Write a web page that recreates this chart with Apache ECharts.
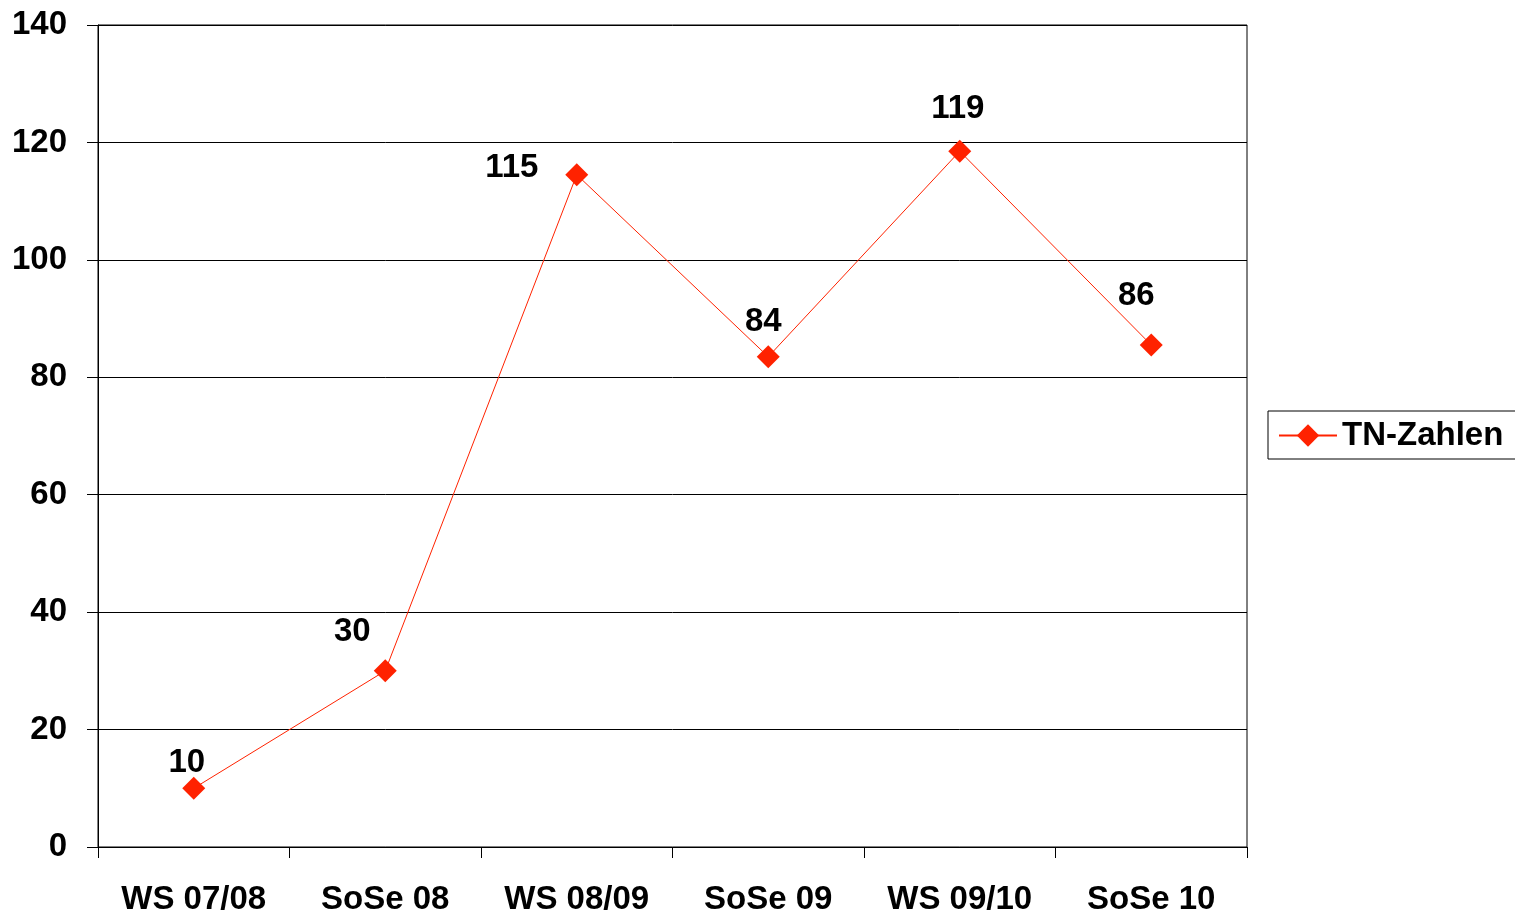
<!DOCTYPE html>
<html><head><meta charset="utf-8">
<script src="https://cdn.jsdelivr.net/npm/echarts@6/dist/echarts.min.js"></script>
<style>html,body{margin:0;padding:0;background:#fff}#c{width:1515px;height:917px}</style>
</head><body><div id="c"></div>
<script>
const categories = ['WS 07/08','SoSe 08','WS 08/09','SoSe 09','WS 09/10','SoSe 10'];
const tnZahlen = [10, 30, 114.5, 83.5, 118.5, 85.5];
const labelOffsets = [[-7,-25],[-33,-39],[-65,-7],[-5,-35],[-2,-42],[-15,-49]];
const seriesName = 'TN-Zahlen';
const FONT = '"Liberation Sans", Arial, sans-serif';
const RED = '#FF2200';

const chart = echarts.init(document.getElementById('c'), null, {renderer:'canvas'});
chart.setOption({
  animation:false,
  backgroundColor:'#fff',
  textStyle:{fontFamily:FONT},
  grid:{left:98, top:25, right:268, bottom:70, show:true, borderColor:'#000', borderWidth:1, backgroundColor:'transparent'},
  legend:{
    show:true, left:1268, top:411, orient:'horizontal',
    padding:[8,20,7,10], borderColor:'#000', borderWidth:1,
    itemWidth:58, itemHeight:28, itemGap:10,
    textStyle:{fontSize:33, fontWeight:'bold', color:'#000', fontFamily:FONT, padding:[4,0,0,0]},
    data:[seriesName]
  },
  xAxis:{
    type:'category', data:categories, boundaryGap:true,
    axisLine:{show:true, lineStyle:{color:'#000', width:1}},
    axisTick:{show:true, length:11, inside:false, lineStyle:{color:'#000'}},
    axisLabel:{margin:36, fontSize:33, fontWeight:'bold', color:'#000', fontFamily:FONT, interval:0},
    splitLine:{show:false}
  },
  yAxis:{
    type:'value', min:0, max:140, interval:20,
    axisLine:{show:true, lineStyle:{color:'#000', width:1}},
    axisTick:{show:true, length:11, inside:false, lineStyle:{color:'#000'}},
    axisLabel:{margin:31, fontSize:33, fontWeight:'bold', color:'#000', fontFamily:FONT},
    splitLine:{show:true, lineStyle:{color:'#000', width:1}}
  },
  series:[{
    name:seriesName, type:'line',
    data:tnZahlen.map((v,i)=>({
      value:v,
      label:{show:true, position:'inside', offset:labelOffsets[i], align:'center', verticalAlign:'middle'}
    })),
    symbol:'diamond', symbolSize:23,
    lineStyle:{color:RED, width:1},
    itemStyle:{color:RED},
    label:{show:true, fontSize:33, fontWeight:'bold', color:'#000', fontFamily:FONT,
      formatter:p=>String(Math.round(p.value))},
    emphasis:{disabled:true}
  }]
});
</script></body></html>
